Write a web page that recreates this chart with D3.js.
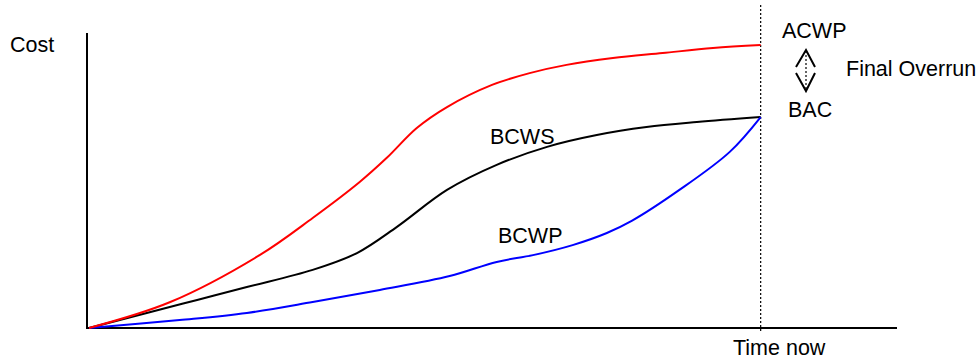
<!DOCTYPE html>
<html>
<head>
<meta charset="utf-8">
<script src="https://cdn.jsdelivr.net/npm/d3@7"></script>
<style>
	body { margin: 0; background: #fff; }
	text { font-family: "Liberation Sans", Arial, sans-serif; font-size: 21.5px; fill: #000; }
</style>
</head>
<body>
<div id="svg-container"></div>
<script>
// time in % of "time now", cost in % of axis height
var acwpTime = [0, 12.1, 25.4, 33.3, 40.3, 44.3, 48.8, 53.3, 60.0, 65.6, 71.1, 78.0, 85.4, 92.9, 100];
var acwpCost = [0, 8.8, 24.7, 37.3, 49.5, 57.6, 67.8, 74.9, 82.4, 86.4, 89.2, 91.5, 93.2, 94.9, 95.9];

var bcwsTime = [0, 8.6, 16.1, 23.5, 33.3, 39.9, 45.8, 53.3, 60.7, 68.2, 75.6, 83.0, 90.5, 100];
var bcwsCost = [0, 5.1, 9.5, 13.9, 19.7, 25.4, 34.2, 46.8, 55.3, 61.4, 65.4, 68.1, 69.8, 71.5];

var bcwpTime = [0, 13.5, 23.5, 33.3, 43.3, 53.7, 60.7, 66.1, 72.0, 77.1, 80.8, 87.9, 95.4, 100];
var bcwpCost = [0, 2.7, 5.1, 8.8, 12.9, 17.6, 22.4, 24.7, 28.1, 32.2, 36.3, 46.8, 59.7, 71.5];

var timeNow = 100;
var timeMax = 120;
var costMax = 100;

var svg = d3.select('#svg-container')
	.append('svg')
	.attr('width', 979)
	.attr('height', 360);

function createScale(range, dom){
	return d3.scaleLinear()
	.range(range)
	.domain(dom);
}

var x = createScale([89, 895], [0, timeMax]);
var y = createScale([328, 33], [0, costMax]);

function zipSeries(t, c) {
	return t.map(function(d, i){ return [d, c[i]]; });
}

var track = d3.line()
	.x(function(d){ return x(d[0]); })
	.y(function(d){ return y(d[1]); })
	.curve(d3.curveCatmullRom.alpha(0.5));

function drawTrack(data, color){
	return svg.append('path')
		.datum(data)
		.attr('d', track)
		.attr('stroke-width', 2)
		.attr('stroke', color)
		.attr('fill', 'none');
}

// axes
svg.append('line')
	.attr('x1', 87).attr('y1', y(costMax))
	.attr('x2', 87).attr('y2', y(0))
	.attr('stroke', '#000').attr('stroke-width', 2);
svg.append('line')
	.attr('x1', 86).attr('y1', y(0))
	.attr('x2', x(timeMax) + 2).attr('y2', y(0))
	.attr('stroke', '#000').attr('stroke-width', 2);

// time now marker
svg.append('line')
	.attr('x1', x(timeNow)).attr('y1', 5)
	.attr('x2', x(timeNow)).attr('y2', 333)
	.attr('stroke', '#000').attr('stroke-width', 1.2)
	.attr('stroke-dasharray', '2,2');

drawTrack(zipSeries(bcwsTime, bcwsCost), '#000');
drawTrack(zipSeries(bcwpTime, bcwpCost), '#0000ff');
drawTrack(zipSeries(acwpTime, acwpCost), '#ff0000');

// overrun arrow
var ax = 806;
svg.append('line')
	.attr('x1', ax).attr('y1', 51).attr('x2', ax).attr('y2', 90)
	.attr('stroke', '#000').attr('stroke-width', 1.2)
	.attr('stroke-dasharray', '2,2');
svg.append('path')
	.attr('d', 'M796,67 L806,50 L815,67 M796,73 L806,91 L815,73')
	.attr('stroke', '#000').attr('stroke-width', 2)
	.attr('fill', 'none');

// labels
var labels = [
	['Cost', 10, 52],
	['ACWP', 782, 38],
	['Final Overrun', 846, 76],
	['BAC', 788, 117],
	['BCWS', 490, 144],
	['BCWP', 498, 243],
	['Time now', 733, 355]
];
svg.selectAll('text.lbl')
	.data(labels)
	.enter()
	.append('text')
	.attr('class', 'lbl')
	.attr('x', function(d){ return d[1]; })
	.attr('y', function(d){ return d[2]; })
	.text(function(d){ return d[0]; });
</script>
</body>
</html>
